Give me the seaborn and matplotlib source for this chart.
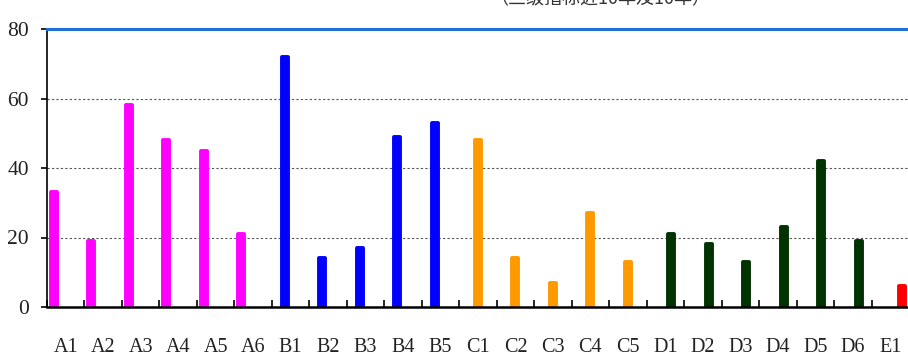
import numpy as np
import pandas as pd
import matplotlib
matplotlib.use("Agg")
import matplotlib.pyplot as plt
import seaborn as sns

# indicator codes, the group each belongs to, and the values
categories = ["A1", "A2", "A3", "A4", "A5", "A6",
              "B1", "B2", "B3", "B4", "B5",
              "C1", "C2", "C3", "C4", "C5",
              "D1", "D2", "D3", "D4", "D5", "D6",
              "E1"]
groups = ["A"] * 6 + ["B"] * 5 + ["C"] * 5 + ["D"] * 6 + ["E"]
values = [33, 19, 58, 48, 45, 21,
          72, 14, 17, 49, 53,
          48, 14, 7, 27, 13,
          21, 18, 13, 23, 42, 19,
          6]
group_order = ["A", "B", "C", "D", "E"]
group_colors = ["#FF00FF", "#0000FF", "#FF9900", "#013301", "#FF0000"]
y_ticks = [0, 20, 40, 60, 80]
title_text = "（三级指标近10年及10年）"


if __name__ == '__main__':
    df = pd.DataFrame({"cat": categories, "group": groups, "value": values})

    sns.set_style("white")
    plt.rcParams['font.family'] = ['Liberation Serif', 'DejaVu Serif']

    fig = plt.figure(figsize=(9.08, 3.58), dpi=100)
    ax = fig.add_axes([47 / 908, 51 / 358, 862 / 908, 278 / 358])

    sns.barplot(ax=ax, data=df, x="cat", y="value", hue="group",
                order=categories, hue_order=group_order,
                palette=group_colors, dodge=True, errorbar=None,
                legend=False, saturation=1)

    # thicken the narrow dodged bars a bit, rounded like the original
    for p in ax.patches:
        p.set_edgecolor(p.get_facecolor())
        p.set_linewidth(2.8)
        p.set_joinstyle("round")

    ax.set_ylim(0, 80)
    ax.set_yticks(y_ticks)
    ax.set_xlabel("")
    ax.set_ylabel("")

    ax.set_axisbelow(True)
    ax.yaxis.grid(True, linestyle=(0, (2, 2)), color="#555555", linewidth=0.8)
    ax.xaxis.grid(False)

    ax.spines["top"].set_color("#1F6FD6")
    ax.spines["top"].set_linewidth(2.2)
    ax.spines["right"].set_visible(False)
    ax.spines["left"].set_color("black")
    ax.spines["left"].set_linewidth(1.2)
    ax.spines["bottom"].set_color("black")
    ax.spines["bottom"].set_linewidth(1.8)

    # category boundary ticks pointing inward, labels centred between them
    ax.set_xticks(np.arange(-0.5, len(categories), 1), minor=True)
    ax.tick_params(axis="x", which="minor", direction="in", length=5,
                   width=1.2, color="black", bottom=True)
    ax.tick_params(axis="x", which="major", length=0, pad=22, labelsize=14.5,
                   labelcolor="#222222")
    ax.tick_params(axis="y", direction="out", length=4, width=1.2,
                   color="black", left=True, pad=9, labelsize=15.5,
                   labelcolor="#222222")

    fig.text(600 / 908, 1 - 8 / 358, title_text, ha="center", va="bottom",
             fontsize=13, color="#333333",
             family=["Noto Sans CJK SC", "DejaVu Sans"])

    plt.savefig("out.png", dpi=100)
